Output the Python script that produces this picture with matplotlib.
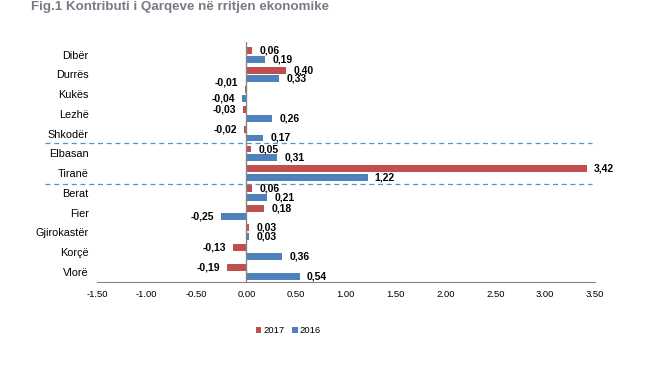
import numpy as np
import matplotlib
matplotlib.use('Agg')
import matplotlib.pyplot as plt

plt.rcParams['font.family'] = ['Liberation Sans', 'DejaVu Sans']

# te dhenat
regions = ['Dibër', 'Durrës', 'Kukës', 'Lezhë', 'Shkodër', 'Elbasan', 'Tiranë',
           'Berat', 'Fier', 'Gjirokastër', 'Korçë', 'Vlorë']
v2017 = [0.06, 0.40, -0.01, -0.03, -0.02, 0.05, 3.42, 0.06, 0.18, 0.03, -0.13, -0.19]
v2016 = [0.19, 0.33, -0.04, 0.26, 0.17, 0.31, 1.22, 0.21, -0.25, 0.03, 0.36, 0.54]
xticks = [-1.5, -1.0, -0.5, 0.0, 0.5, 1.0, 1.5, 2.0, 2.5, 3.0, 3.5]
separators = [4.45, 6.55]

red = '#C0504D'
blue = '#4F81BD'

fig = plt.figure(figsize=(6.64, 3.66), dpi=100)
ax = fig.add_axes([0.146, 0.2295, 0.750, 0.656])

y = np.arange(len(regions))
h = 0.35
off = 0.22
b17 = ax.barh(y - off, v2017, height=h, color=red, label='2017')
b16 = ax.barh(y + off, v2016, height=h, color=blue, label='2016')

def fmt(v):
    return f'{v:.2f}'.replace('.', ',')

# etiketat e vlerave
for i, (a, b) in enumerate(zip(v2017, v2016)):
    for val, yy, dy in [(a, y[i] - off, 0), (b, y[i] + off, 0)]:
        if val is a and i == 2:
            dy = 5
        dx = 5 if val >= 0 else -5
        ax.annotate(fmt(val), xy=(val, yy), xytext=(dx, dy), textcoords='offset points',
                    ha='left' if val >= 0 else 'right', va='center',
                    fontsize=7.5, fontweight='bold', color='black')

ax.set_xlim(-1.5, 3.5)
ax.set_ylim(11.52, -0.65)
ax.set_xticks(xticks)
ax.set_xticklabels([f'{t:.2f}' for t in xticks], fontsize=6.8)
ax.set_yticks(y)
ax.set_yticklabels(regions, fontsize=7.8)
ax.tick_params(axis='both', length=0)
ax.tick_params(axis='x', pad=6)
ax.tick_params(axis='y', pad=6)

for s in ['top', 'right', 'left']:
    ax.spines[s].set_visible(False)
ax.spines['bottom'].set_color('#868686')
ax.axvline(0, color='#868686', lw=1, zorder=3)

for sy in separators:
    ax.plot([-0.105, 0.995], [sy, sy], transform=ax.get_yaxis_transform(),
            ls=(0, (4, 3)), color='#5B8FCF', lw=0.9, clip_on=False)

fig.text(0.047, 0.98, 'Fig.1 Kontributi i Qarqeve në rritjen ekonomike',
         fontsize=9.6, fontweight='bold', color='#767b84', va='center')

fig.legend(handles=[b17, b16], labels=['2017', '2016'], loc='center',
           bbox_to_anchor=(0.434, 0.096), ncol=2, frameon=False, fontsize=6.8,
           handlelength=0.6, handleheight=0.6, handletextpad=0.2, columnspacing=0.8)

fig.savefig('out.png', dpi=100)
